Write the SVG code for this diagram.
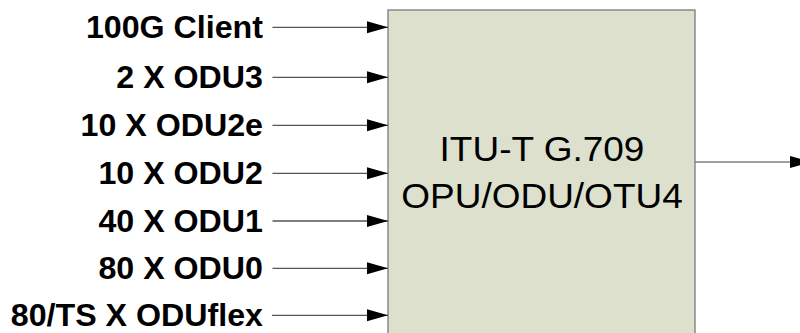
<svg xmlns="http://www.w3.org/2000/svg" width="800" height="333" viewBox="0 0 800 333">
<style>
.lbl{font-family:"Liberation Sans",Arial,sans-serif;font-weight:bold;font-size:32.2px;fill:#000;text-anchor:end}
.box{fill:#DCE0CC;stroke:#7A7A7A;stroke-width:1.3}
.ttl{font-family:"Liberation Sans",Arial,sans-serif;font-size:37px;fill:#000;text-anchor:middle}
.con{stroke:#555;stroke-width:1.3;fill:none;marker-end:url(#ah)}
</style>
<defs>
<marker id="ah" markerUnits="userSpaceOnUse" markerWidth="22" markerHeight="13" refX="21" refY="6" orient="auto" overflow="visible">
<path d="M0,0 L21,6 L0,12 Z" fill="#000"/>
</marker>
</defs>
<rect width="800" height="333" fill="#fff"/>
<g id="block">
<rect class="box" x="388" y="10" width="307" height="340"/>
<g transform="scale(1,0.97)">
<text class="ttl" x="542" y="165.7">ITU-T G.709</text>
<text class="ttl" x="542" y="214.7">OPU/ODU/OTU4</text>
</g>
</g>
<g id="labels" transform="scale(1,0.95)">
<text id="in1" class="lbl" x="263" y="39.8">100G Client</text>
<text id="in2" class="lbl" x="263" y="92.4">2 X ODU3</text>
<text id="in3" class="lbl" x="263" y="143">10 X ODU2e</text>
<text id="in4" class="lbl" x="263" y="193.5">10 X ODU2</text>
<text id="in5" class="lbl" x="263" y="243.7">40 X ODU1</text>
<text id="in6" class="lbl" x="263" y="293.5">80 X ODU0</text>
<text id="in7" class="lbl" x="263" y="343">80/TS X ODUflex</text>
</g>
<g id="connectors">
<line class="con" x1="272.5" y1="27.3" x2="388" y2="27.3"/>
<line class="con" x1="272.5" y1="77.3" x2="388" y2="77.3"/>
<line class="con" x1="272.5" y1="125.3" x2="388" y2="125.3"/>
<line class="con" x1="272.5" y1="173.3" x2="388" y2="173.3"/>
<line class="con" x1="272.5" y1="221" x2="388" y2="221"/>
<line class="con" x1="272.5" y1="268.3" x2="388" y2="268.3"/>
<line class="con" x1="272" y1="315.3" x2="388" y2="315.3"/>
<line class="con" x1="695" y1="162" x2="811" y2="162" style="stroke:#808080"/>
</g>
</svg>
